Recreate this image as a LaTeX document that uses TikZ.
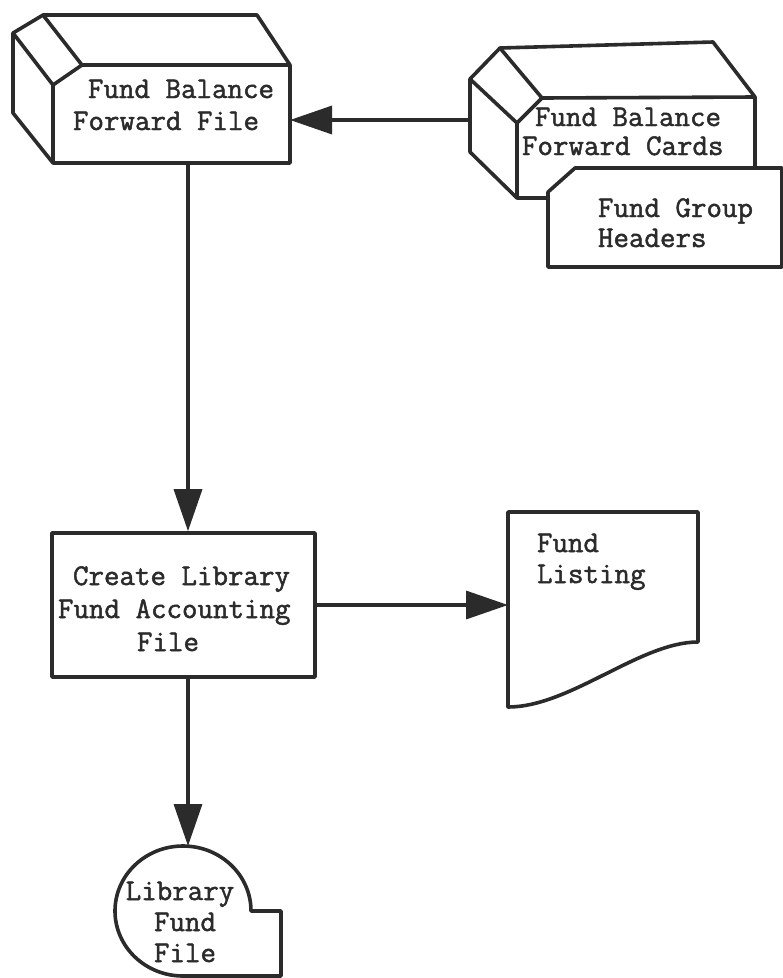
\documentclass[tikz,border=0pt]{standalone}
\usepackage{fontspec}
\usetikzlibrary{arrows.meta}
\newfontfamily\typewriter[FakeBold=1.6]{Latin Modern Mono}
\definecolor{ink}{HTML}{2B2B2B}
\tikzset{
  outline/.style={draw=ink, line width=3.6pt, line join=round, fill=white},
  edge/.style={draw=ink, line width=3.6pt, line join=round},
  anchorbox/.style={draw=none, inner sep=0pt, outer sep=0pt, rectangle},
  flow/.style={draw=ink, line width=3.4pt,
    -{Triangle[length=42pt, width=28pt]}, shorten >=0pt},
  label/.style={inner sep=0pt, outer sep=0pt, anchor=base west, text=ink,
    font=\typewriter\fontsize{30.1}{34}\selectfont},
}
\begin{document}
\begin{tikzpicture}[x=1pt, y=-1pt]
\useasboundingbox (0,0) rectangle (783,978);

% ---- Fund Balance Forward File (magnetic-drum style box) ----
\node[anchorbox, minimum width=237pt, minimum height=98pt] (fbf) at (171.5,114) {};
\path[outline] (13,33) -- (43,15) -- (257,15) -- (290,65) -- (290,163)
  -- (53,163) -- (13,113) -- cycle;
\draw[edge] (43,15) -- (82,65) -- (290,65);
\draw[edge] (13,33) -- (53,85) -- (82,65);
\draw[edge] (53,85) -- (53,163);
\node[label] (t1a) at (88,98) {Fund Balance};
\node[label] (t1b) at (73,130) {Forward File};

% ---- Fund Balance Forward Cards ----
\node[anchorbox, minimum width=285pt, minimum height=156pt] (fbc) at (612.5,120) {};
\path[outline] (470,79) -- (500,48) -- (713,42) -- (755,97) -- (755,198)
  -- (517,198) -- (470,152) -- cycle;
\draw[edge] (500,48) -- (542,98) -- (755,97);
\draw[edge] (470,79) -- (517,123) -- (542,98);
\draw[edge] (517,123) -- (517,198);
\node[label] (t2a) at (535,126) {Fund Balance};
\node[label] (t2b) at (522,155) {Forward Cards};

% ---- Fund Group Headers (punched card) ----
\node[anchorbox, minimum width=234pt, minimum height=99pt] (fgh) at (665,217.5) {};
\path[outline] (548,192) -- (575,168) -- (782,168) -- (782,267)
  -- (548,267) -- cycle;
\node[label] (t3a) at (598,217) {Fund Group};
\node[label] (t3b) at (598,247) {Headers};

% ---- Create Library Fund Accounting File (process) ----
\node[outline, rectangle, inner sep=0pt, minimum width=263pt,
  minimum height=144pt] (cla) at (183.5,605) {};
\node[label] (t4a) at (73,585) {Create Library};
\node[label] (t4b) at (58,618) {Fund Accounting};
\node[label] (t4c) at (137,651) {File};

% ---- Fund Listing (document) ----
\node[anchorbox, minimum width=190pt, minimum height=195pt] (fl) at (603,609.5) {};
\path[outline] (508,512) -- (698,512) -- (698,642)
  .. controls (640,642) and (570,707) .. (508,707) -- cycle;
\node[label] (t5a) at (537,552) {Fund};
\node[label] (t5b) at (537,583) {Listing};

% ---- Library Fund File (disk storage) ----
\node[anchorbox, circle, minimum size=130pt] (lib) at (183,911) {};
\path[outline] (281,911) -- (251,911)
  arc[start angle=0, end angle=-270, x radius=68, y radius=65]
  -- (281,976) -- cycle;
\node[label, anchor=base] (t6a) at (180,900) {Library};
\node[label, anchor=base] (t6b) at (185,931) {Fund};
\node[label, anchor=base] (t6c) at (185,962) {File};

% ---- Flow lines ----
\coordinate (spine) at (188,0);
\draw[flow] (fbc.west) -- (fbc.west -| fbf.east);
\draw[flow] (fbf.south -| spine) -- (cla.north -| spine);
\draw[flow] (cla.east) -- (cla.east -| fl.west);
\draw[flow] (cla.south -| spine) -- (lib.north -| spine);
\end{tikzpicture}
\end{document}
